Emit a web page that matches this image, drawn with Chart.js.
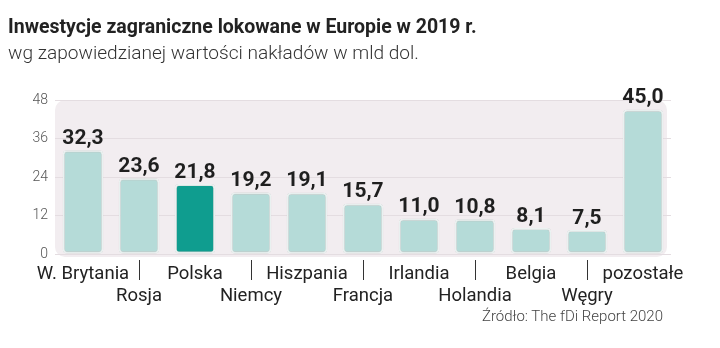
<!DOCTYPE html>
<html>
<head>
<meta charset="utf-8">
<script src="https://cdn.jsdelivr.net/npm/chart.js@4"></script>
<style>
    body { margin: 0; background: #fff; }
    #wrap { position: relative; width: 720px; height: 348px; overflow: hidden; }
    #title { position: absolute; left: 8px; top: 15px; font: bold 19.5px Roboto, sans-serif; color: #222; white-space: nowrap; }
    #subtitle { position: absolute; left: 8px; top: 41px; font: 300 19.1px Roboto, sans-serif; color: #333; white-space: nowrap; }
    #source { position: absolute; right: 57px; top: 307px; font: 300 15px Roboto, sans-serif; color: #444; }
    canvas { position: absolute; left: 0; top: 0; }
</style>
</head>
<body>
<div id="wrap">
    <canvas id="chart" width="720" height="348"></canvas>
    <div id="title">Inwestycje zagraniczne lokowane w Europie w 2019 r.</div>
    <div id="subtitle">wg zapowiedzianej wartości nakładów w mld dol.</div>
    <div id="source">Źródło: The fDi Report 2020</div>
</div>
<script>
const countries = ["W. Brytania", "Rosja", "Polska", "Niemcy", "Hiszpania", "Francja", "Irlandia", "Holandia", "Belgia", "Węgry", "pozostałe"];
const investments = [32.3, 23.6, 21.8, 19.2, 19.1, 15.7, 11.0, 10.8, 8.1, 7.5, 45.0];
const yTicks = [0, 12, 24, 36, 48];
const highlight = "Polska";

const barColors = countries.map(c => c === highlight ? "#0f9d8f" : "#b5dbd8");

document.addEventListener("DOMContentLoaded", function () {
    const ctx = document.getElementById("chart").getContext("2d");

    // rounded light panel behind the bars
    const panelPlugin = {
        id: "panel",
        beforeDraw(chart) {
            const a = chart.chartArea;
            const c = chart.ctx;
            c.save();
            c.fillStyle = "#f2edf0";
            c.beginPath();
            c.roundRect(a.left, a.top, a.right - a.left - 4, a.bottom - a.top + 3, 10);
            c.fill();
            c.restore();
        },
        beforeDatasetsDraw(chart) {
            const c = chart.ctx;
            c.save();
            c.shadowColor = "rgba(0,0,0,0.25)";
            c.shadowBlur = 2;
        },
        afterDatasetsDraw(chart) {
            const c = chart.ctx;
            c.restore();
            // value labels
            const meta = chart.getDatasetMeta(0);
            c.save();
            c.font = "bold 21px Roboto, sans-serif";
            c.fillStyle = "#1f1f1f";
            c.textAlign = "center";
            c.textBaseline = "bottom";
            meta.data.forEach((bar, i) => {
                const txt = investments[i].toFixed(1).replace(".", ",");
                c.fillText(txt, bar.x, bar.y - 1);
            });
            // separators for second row labels
            const xs = chart.scales.x;
            const a = chart.chartArea;
            c.strokeStyle = "#333";
            c.lineWidth = 1;
            countries.forEach((name, i) => {
                if (i % 2 === 1) {
                    const x = Math.round(xs.getPixelForValue(i)) + 0.5;
                    c.beginPath();
                    c.moveTo(x, a.bottom + 6);
                    c.lineTo(x, a.bottom + 26);
                    c.stroke();
                }
            });
            c.restore();
        }
    };

    new Chart(ctx, {
        type: "bar",
        data: {
            labels: countries,
            datasets: [{
                data: investments,
                backgroundColor: barColors,
                borderColor: "#eef6f5",
                borderWidth: 2,
                borderRadius: 4,
                borderSkipped: false,
                barPercentage: 0.72,
                categoryPercentage: 1,
            }],
        },
        options: {
            responsive: false,
            animation: false,
            layout: { padding: { top: 100, right: 49, left: 0, bottom: 0 } },
            plugins: {
                legend: { display: false },
                tooltip: { enabled: false },
            },
            scales: {
                x: {
                    grid: { display: false },
                    border: { display: false },
                    ticks: {
                        autoSkip: false,
                        maxRotation: 0,
                        padding: 1,
                        color: "#222",
                        font: { family: "Roboto, sans-serif", size: 18.5, lineHeight: 1.22 },
                        callback: function (value, index) {
                            const name = countries[index];
                            return index % 2 === 1 ? ["", name] : name;
                        },
                    },
                    afterFit: function (scale) { scale.height = 94; },
                },
                y: {
                    min: 0,
                    max: 48,
                    afterBuildTicks: function (scale) {
                        scale.ticks = yTicks.map(v => ({ value: v }));
                    },
                    grid: { color: "#e4dde1", drawTicks: false },
                    border: { display: false },
                    ticks: {
                        padding: 7,
                        color: "#555",
                        font: { family: "Roboto, sans-serif", size: 14, weight: 300 },
                    },
                    afterFit: function (scale) { scale.width = 55; },
                },
            },
        },
        plugins: [panelPlugin],
    });
});
</script>
</body>
</html>
